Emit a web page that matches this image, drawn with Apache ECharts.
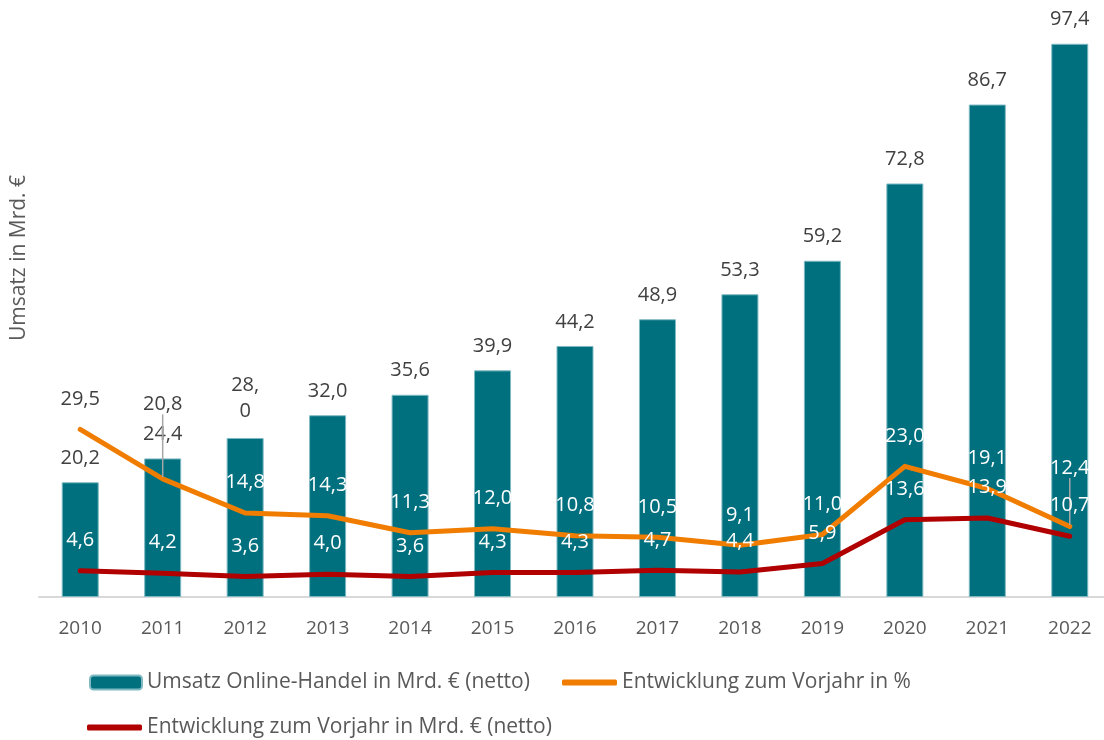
<!DOCTYPE html>
<html>
<head>
<meta charset="utf-8">
<script src="https://cdn.jsdelivr.net/npm/echarts@6/dist/echarts.min.js"></script>
<style>
html,body{margin:0;padding:0;background:#fff;}
#c{width:1104px;height:740px;}
</style>
</head>
<body>
<div id="c"></div>
<script>
const years = ['2010','2011','2012','2013','2014','2015','2016','2017','2018','2019','2020','2021','2022'];
const umsatz = [20.2, 24.4, 28.0, 32.0, 35.6, 39.9, 44.2, 48.9, 53.3, 59.2, 72.8, 86.7, 97.4];
const entwProzent = [29.5, 20.8, 14.8, 14.3, 11.3, 12.0, 10.8, 10.5, 9.1, 11.0, 23.0, 19.1, 12.4];
const entwMrd = [4.6, 4.2, 3.6, 4.0, 3.6, 4.3, 4.3, 4.7, 4.4, 5.9, 13.6, 13.9, 10.7];
const nameBar = 'Umsatz Online-Handel in Mrd. € (netto)';
const nameProz = 'Entwicklung zum Vorjahr in %';
const nameMrd = 'Entwicklung zum Vorjahr in Mrd. € (netto)';
const yName = 'Umsatz in Mrd. €';

const FONT = '"Open Sans"';
const fmt = v => v.toFixed(1).replace('.', ',');

const chart = echarts.init(document.getElementById('c'));

const barData = umsatz.map((v, i) => {
  if (i === 2) {
    return { value: v, label: { formatter: () => '28,\n0', lineHeight: 26 } };
  }
  return v;
});
const leaderIdx = { 1: -44, 12: -28 };
const prozData = entwProzent.map((v, i) => {
  const item = { value: v, label: { color: i < 2 ? '#404040' : '#ffffff' } };
  if (leaderIdx[i] !== undefined) item.labelLine = { show: true };
  return item;
});

chart.setOption({
  animation: false,
  textStyle: { fontFamily: FONT },
  grid: { left: 39, top: 29, width: 1072, height: 568, outerBoundsMode: 'none', containLabel: false },
  xAxis: {
    type: 'category',
    data: years,
    axisLine: { lineStyle: { color: '#d9d9d9', width: 2 } },
    axisTick: { show: false },
    axisLabel: { color: '#595959', fontSize: 19, margin: 22, fontFamily: FONT }
  },
  yAxis: {
    type: 'value', min: 0, max: 100, show: false
  },
  legend: [
    {
      data: [nameBar], left: 89, top: 672, padding: 0, itemWidth: 52, itemHeight: 14, itemGap: 5,
      textStyle: { color: '#595959', fontSize: 21, fontFamily: FONT }
    },
    {
      data: [{ name: nameProz, icon: 'roundRect' }], left: 562, top: 672, padding: 0, itemWidth: 55, itemHeight: 6,
      textStyle: { color: '#595959', fontSize: 21, fontFamily: FONT }
    },
    {
      data: [{ name: nameMrd, icon: 'roundRect' }], left: 87, top: 717, padding: 0, itemWidth: 55, itemHeight: 6,
      textStyle: { color: '#595959', fontSize: 21, fontFamily: FONT }
    }
  ],
  graphic: [{
    type: 'text', x: 19, y: 258, rotation: Math.PI / 2,
    style: { text: yName, fill: '#595959', font: '21px "Open Sans"', align: 'center', verticalAlign: 'middle' }
  }],
  series: [
    {
      name: nameBar, type: 'bar', data: barData, barWidth: 37,
      itemStyle: { color: '#00707F', borderColor: '#7fbac3', borderWidth: 1 },
      label: { show: true, position: 'top', distance: 14, color: '#404040', fontSize: 20, fontFamily: FONT, formatter: p => fmt(p.value) }
    },
    {
      name: nameProz, type: 'line', data: prozData, showSymbol: true, symbol: 'circle', symbolSize: 3,
      lineStyle: { color: '#F07D00', width: 5, cap: 'round', join: 'round' },
      itemStyle: { color: '#F07D00' },
      label: { show: true, position: 'top', distance: 19, fontSize: 20, fontFamily: FONT, formatter: p => fmt(p.value) },
      labelLine: { show: false, lineStyle: { color: '#a6a6a6', width: 1.5 } },
      labelLayout: p => {
        const dy = leaderIdx[p.dataIndex];
        return dy !== undefined ? { dy: dy } : {};
      },
      z: 3
    },
    {
      name: nameMrd, type: 'line', data: entwMrd, showSymbol: true, symbol: 'circle', symbolSize: 3,
      lineStyle: { color: '#B00000', width: 5, cap: 'round', join: 'round' },
      itemStyle: { color: '#B00000' },
      label: { show: true, position: 'top', distance: 19, color: '#ffffff', fontSize: 20, fontFamily: FONT, formatter: p => fmt(p.value) },
      z: 3
    }
  ]
});
</script>
</body>
</html>
